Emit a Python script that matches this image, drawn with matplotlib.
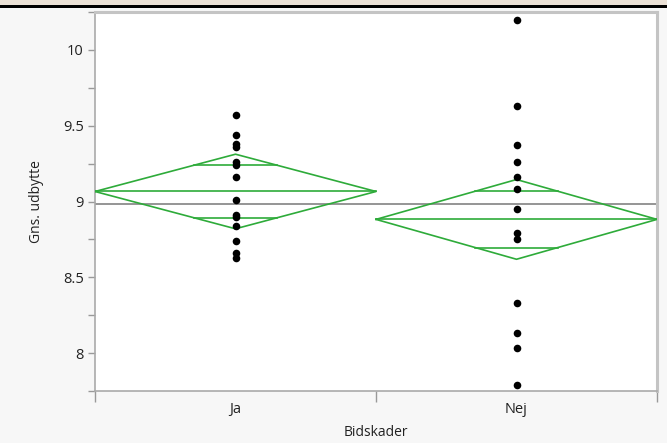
import matplotlib
matplotlib.use("Agg")
import matplotlib.pyplot as plt
import numpy as np
from matplotlib.patches import Rectangle

categories = ["Ja", "Nej"]
ja_values = [9.57, 9.44, 9.38, 9.36, 9.26, 9.24, 9.16, 9.01, 8.91, 8.90, 8.84, 8.74, 8.66, 8.63]
nej_values = [10.20, 9.63, 9.37, 9.26, 9.16, 9.08, 8.95, 8.79, 8.75, 8.33, 8.13, 8.035, 7.79]
group_means = [9.066, 8.882]
ci_halfwidth = [0.246, 0.263]
grand_mean = 8.985
yticks = [8, 8.5, 9, 9.5, 10]
ytick_labels = ["8", "8.5", "9", "9.5", "10"]

plt.rcParams['font.family'] = ['Open Sans', 'DejaVu Sans']

fig = plt.figure(figsize=(6.67, 4.43), dpi=100)
fig.patch.set_facecolor('#f7f7f7')
# top band
fig.patches.append(Rectangle((0, 1 - 5/443), 1, 5/443, transform=fig.transFigure,
                             facecolor='#ebe1d6', edgecolor='none', zorder=0))
fig.patches.append(Rectangle((0, 1 - 8/443), 1, 3.5/443, transform=fig.transFigure,
                             facecolor='black', edgecolor='none', zorder=1))

ax = fig.add_axes([95/667, 1 - 391/443, (657-95)/667, (391-12)/443])
ax.set_facecolor('white')
ax.set_xlim(0, 2)
ax.set_ylim(7.75, 10.243)

green = '#2eab3a'
# grand mean line
ax.axhline(grand_mean, color='#8c8c8c', lw=1.3, zorder=2)

all_groups = [ja_values, nej_values]
for i, (vals, m, h) in enumerate(zip(all_groups, group_means, ci_halfwidth)):
    x0, xc, x1 = i, i + 0.5, i + 1
    dx = [x0, xc, x1, xc, x0]
    dy = [m, m + h, m, m - h, m]
    ax.plot(dx, dy, color=green, lw=1.2, zorder=3)
    ax.plot([x0, x1], [m, m], color=green, lw=1.2, zorder=3)
    o = h / np.sqrt(2)
    frac = 1 - o / h
    for yy in (m + o, m - o):
        ax.plot([xc - 0.5 * frac, xc + 0.5 * frac], [yy, yy], color=green, lw=1.2, zorder=3)
    ax.scatter([xc] * len(vals), vals, s=30, color='black', zorder=4, linewidths=0)

ax.set_yticks(yticks)
ax.set_yticklabels(ytick_labels)
ax.set_yticks(np.arange(7.75, 10.26, 0.25), minor=True)
ax.set_xticks([0, 1, 2])
ax.set_xticklabels([])
ax.set_xticks([0.5, 1.5], minor=True)
ax.set_xticklabels(categories, minor=True)
ax.tick_params(axis='x', which='minor', length=0, pad=8, labelsize=10.5, labelcolor='#222222')
ax.tick_params(axis='x', which='major', length=8, color='#999999', width=1)
ax.tick_params(axis='y', which='both', length=5, color='#999999', width=1, labelsize=10.5,
               labelcolor='#222222', pad=3)

for s in ['left', 'bottom']:
    ax.spines[s].set_color('#aaaaaa')
    ax.spines[s].set_linewidth(1.2)
for s in ['top', 'right']:
    ax.spines[s].set_color('#c4c4c4')
    ax.spines[s].set_linewidth(2.2)

ax.set_ylabel("Gns. udbytte", fontsize=10, color='#222222', labelpad=14)
ax.set_xlabel("Bidskader", fontsize=10, color='#222222', labelpad=6)

fig.savefig("out.png", dpi=100, facecolor=fig.get_facecolor())
